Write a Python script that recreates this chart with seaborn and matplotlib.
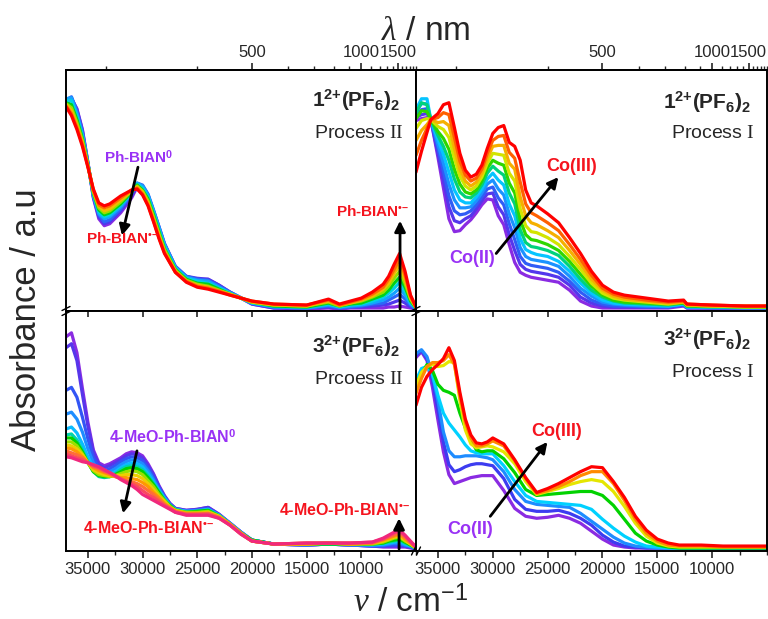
import numpy as np
import pandas as pd
import matplotlib
matplotlib.use("Agg")
import matplotlib.pyplot as plt
import seaborn as sns
from matplotlib.colors import LinearSegmentedColormap
from matplotlib.lines import Line2D
from matplotlib.ticker import FixedLocator, MultipleLocator, NullFormatter

# ---------------- data (arbitrary absorbance units) ----------------
# panel 1: 1(PF6)2, process II  (purple -> red)
nu_tl = [37000, 36500, 36000, 35500, 35000, 34500, 34000, 33500, 33000, 32000, 31000, 30500,
         30000, 29500, 29000, 28500, 28000, 27000, 26000, 25000, 24000, 23000, 22000, 20000,
         18000, 15000, 13000, 12000, 11000, 10000, 9000, 8000, 7500, 7000, 6500, 6000, 5500, 5000]
abs_tl = [
    [206, 212, 202, 181, 148, 112, 91, 84, 86, 97, 112, 123, 122, 113, 97, 81, 65, 42, 32, 30, 30, 24, 17, 5, 1, 0, 1, 0, 1, 1, 1, 1, 2, 2, 3, 2, 1, 0],
    [208, 213, 201, 180, 148, 113, 93, 86, 88, 99, 114, 125, 124, 115, 99, 83, 66, 43, 33, 31, 30, 24, 17, 5, 1, 1, 2, 1, 2, 2, 3, 4, 5, 7, 9, 6, 2, 0],
    [211, 214, 199, 178, 147, 114, 95, 88, 90, 101, 116, 127, 125, 116, 100, 83, 66, 43, 33, 30, 29, 23, 17, 6, 2, 1, 3, 1, 2, 3, 5, 6, 9, 12, 15, 10, 4, 0],
    [212, 213, 197, 176, 147, 115, 96, 91, 93, 103, 117, 127, 124, 115, 99, 82, 65, 42, 32, 29, 28, 22, 16, 6, 2, 1, 4, 2, 3, 4, 6, 9, 12, 16, 21, 14, 5, 1],
    [210, 210, 194, 174, 146, 116, 98, 93, 95, 105, 118, 126, 122, 113, 97, 80, 63, 41, 31, 28, 26, 21, 16, 6, 3, 2, 5, 2, 4, 5, 8, 12, 16, 21, 27, 18, 7, 1],
    [208, 206, 191, 172, 146, 117, 100, 95, 97, 106, 118, 125, 120, 111, 95, 78, 61, 40, 30, 26, 25, 20, 15, 7, 3, 2, 6, 3, 5, 6, 10, 14, 19, 26, 32, 22, 8, 1],
    [207, 203, 188, 170, 145, 118, 102, 97, 99, 108, 119, 124, 119, 109, 93, 76, 60, 39, 29, 25, 23, 19, 15, 7, 4, 3, 7, 3, 6, 8, 12, 17, 23, 31, 38, 26, 10, 1],
    [206, 200, 185, 168, 145, 119, 104, 99, 101, 110, 119, 123, 118, 107, 91, 74, 58, 38, 28, 24, 22, 18, 15, 7, 4, 3, 8, 4, 6, 9, 13, 20, 26, 36, 44, 30, 11, 2],
    [205, 197, 183, 166, 144, 120, 105, 102, 104, 112, 120, 122, 116, 105, 89, 72, 57, 37, 28, 23, 21, 18, 14, 8, 5, 4, 9, 4, 7, 10, 15, 22, 30, 40, 50, 34, 13, 2],
    [204, 195, 181, 164, 143, 121, 107, 104, 106, 114, 120, 121, 115, 104, 88, 71, 56, 37, 27, 22, 20, 17, 14, 8, 5, 4, 10, 5, 8, 11, 17, 25, 33, 45, 56, 38, 14, 2],
]

# panel 2: 1(PF6)2, process I  (Co(II) -> Co(III))
nu_tr = [37000, 36500, 36000, 35650, 35000, 34500, 34000, 33500, 33000, 32500, 32000, 31500,
         31000, 30500, 30000, 29500, 29000, 28500, 28000, 27500, 27000, 26500, 26000, 25000,
         24000, 23000, 22000, 21000, 20000, 19000, 18000, 16000, 14000, 12600, 12300, 10000, 7000, 5000]
abs_tr = [
    [190, 192, 193, 191, 153, 122, 91, 78, 79, 85, 90, 97, 105, 111, 110, 94, 85, 65, 47, 37, 34, 32, 31, 29, 27, 19, 8, 3, 1, 1, 1, 1, 1, 3, 1, 1, 1, 1],
    [193, 196, 197, 191, 157, 130, 103, 89, 87, 91, 94, 101, 109, 116, 117, 103, 95, 75, 59, 45, 40, 38, 37, 35, 32, 24, 12, 6, 3, 2, 2, 2, 2, 4, 1, 1, 1, 1],
    [196, 201, 202, 191, 162, 139, 114, 99, 95, 96, 99, 105, 113, 121, 123, 112, 105, 86, 70, 53, 46, 44, 43, 41, 37, 28, 17, 9, 5, 3, 3, 2, 2, 4, 2, 1, 1, 1],
    [199, 207, 207, 191, 166, 147, 126, 110, 102, 102, 103, 109, 117, 126, 130, 121, 115, 96, 82, 62, 53, 50, 49, 47, 43, 33, 21, 13, 7, 5, 4, 3, 3, 5, 2, 2, 1, 1],
    [201, 212, 212, 191, 171, 156, 138, 120, 110, 107, 107, 113, 121, 131, 137, 130, 125, 106, 94, 71, 60, 57, 55, 53, 48, 38, 26, 16, 9, 6, 5, 4, 3, 5, 2, 2, 2, 2],
    [198, 208, 206, 191, 175, 164, 150, 131, 118, 113, 112, 117, 125, 137, 144, 139, 135, 117, 106, 80, 67, 63, 62, 59, 54, 43, 30, 19, 12, 8, 6, 5, 4, 6, 3, 2, 2, 2],
    [192, 200, 199, 191, 179, 172, 161, 141, 126, 118, 116, 120, 129, 142, 150, 147, 145, 127, 117, 90, 75, 70, 69, 65, 59, 48, 35, 23, 14, 9, 7, 6, 5, 6, 3, 3, 2, 2],
    [182, 190, 192, 191, 184, 181, 173, 152, 134, 124, 120, 124, 133, 147, 157, 156, 155, 137, 129, 101, 84, 78, 77, 72, 65, 53, 40, 26, 16, 11, 9, 7, 5, 7, 4, 3, 2, 2],
    [170, 180, 186, 191, 188, 189, 185, 162, 141, 129, 124, 128, 137, 152, 164, 165, 165, 147, 141, 113, 94, 87, 85, 79, 72, 59, 45, 30, 19, 13, 10, 8, 6, 7, 4, 3, 3, 3],
    [155, 170, 182, 191, 193, 198, 196, 173, 149, 135, 129, 132, 141, 157, 170, 174, 175, 158, 152, 128, 106, 97, 94, 87, 79, 65, 50, 34, 21, 15, 12, 9, 7, 8, 5, 4, 3, 3],
    [138, 159, 178, 191, 197, 206, 208, 183, 157, 140, 133, 136, 145, 162, 177, 183, 185, 168, 164, 150, 120, 107, 104, 96, 87, 72, 56, 38, 24, 17, 14, 11, 8, 9, 5, 4, 3, 3],
]

# panel 3: 3(PF6)2, process II
nu_bl = [37000, 36500, 36000, 35500, 35000, 34500, 34000, 33500, 33000, 32500, 32000, 31500,
         31000, 30500, 30000, 29500, 29000, 28500, 28000, 27500, 27000, 26000, 25000, 24000,
         23000, 22000, 21000, 20000, 18000, 15000, 13000, 11000, 9000, 8000, 7500, 7000, 6500,
         6000, 5500, 5000]
abs_bl = [
    [214, 218, 198, 162, 128, 100, 87, 84, 86, 89, 92, 96, 98, 97, 94, 86, 76, 64, 54, 46, 41, 39, 40, 42, 35, 26, 17, 9, 5, 4, 5, 4, 3, 2, 2, 2, 2, 2, 1, 0],
    [203, 207, 190, 156, 124, 98, 85, 82, 84, 87, 90, 94, 96, 95, 92, 84, 75, 63, 53, 46, 41, 39, 40, 42, 35, 26, 17, 9, 5, 4, 5, 4, 3, 3, 3, 3, 3, 3, 2, 0],
    [160, 163, 153, 133, 111, 92, 82, 79, 81, 84, 88, 91, 93, 92, 89, 82, 72, 62, 53, 45, 40, 38, 39, 41, 34, 26, 17, 9, 5, 4, 5, 4, 3, 3, 4, 4, 5, 3, 2, 0],
    [136, 138, 131, 118, 101, 87, 79, 76, 78, 81, 85, 88, 90, 89, 86, 79, 70, 60, 52, 45, 40, 38, 39, 40, 34, 26, 17, 9, 5, 4, 5, 4, 4, 4, 5, 6, 6, 4, 3, 1],
    [121, 123, 117, 106, 93, 82, 76, 74, 75, 78, 82, 85, 87, 86, 83, 76, 68, 59, 51, 44, 40, 38, 38, 40, 34, 25, 16, 9, 5, 5, 5, 5, 4, 5, 6, 7, 8, 5, 3, 1],
    [115, 116, 110, 100, 88, 78, 73, 72, 73, 76, 80, 83, 84, 83, 80, 74, 66, 58, 50, 44, 40, 37, 38, 39, 34, 25, 16, 9, 5, 5, 5, 5, 5, 6, 7, 8, 9, 6, 4, 1],
    [112, 112, 107, 98, 87, 78, 74, 73, 73, 75, 78, 81, 82, 81, 78, 72, 65, 57, 49, 44, 39, 37, 38, 39, 33, 25, 16, 9, 5, 5, 5, 5, 5, 6, 8, 9, 10, 7, 4, 1],
    [108, 108, 104, 96, 87, 79, 75, 74, 73, 74, 76, 78, 79, 78, 75, 69, 63, 55, 49, 43, 39, 37, 37, 38, 33, 25, 16, 8, 5, 5, 6, 5, 5, 7, 9, 11, 12, 8, 5, 1],
    [105, 104, 101, 95, 87, 80, 77, 75, 74, 74, 74, 75, 75, 74, 71, 66, 60, 53, 48, 42, 39, 36, 36, 37, 33, 25, 16, 8, 5, 5, 6, 5, 6, 8, 10, 12, 13, 9, 5, 1],
    [102, 101, 98, 93, 87, 82, 79, 77, 75, 73, 72, 72, 71, 70, 67, 63, 57, 52, 46, 42, 38, 36, 36, 36, 32, 25, 16, 8, 5, 5, 6, 5, 6, 9, 11, 13, 15, 10, 6, 1],
    [99, 97, 95, 92, 87, 83, 81, 78, 76, 73, 71, 69, 68, 66, 63, 59, 55, 50, 45, 41, 38, 35, 35, 36, 32, 24, 15, 8, 5, 6, 6, 6, 6, 10, 12, 14, 16, 12, 7, 2],
    [96, 94, 92, 90, 87, 84, 82, 79, 77, 74, 71, 68, 66, 63, 59, 55, 52, 48, 44, 41, 37, 35, 35, 35, 31, 24, 15, 8, 5, 6, 6, 6, 7, 10, 13, 16, 18, 13, 7, 2],
    [93, 92, 90, 88, 87, 85, 83, 80, 77, 74, 70, 67, 64, 60, 55, 52, 49, 46, 43, 40, 37, 34, 34, 34, 31, 24, 15, 8, 5, 6, 6, 6, 7, 11, 14, 17, 19, 14, 8, 2],
]

# panel 4: 3(PF6)2, process I
nu_br = [37000, 36500, 36000, 35500, 35000, 34500, 34000, 33500, 33000, 32500, 32000, 31500,
         31000, 30500, 30000, 29000, 28000, 27000, 26000, 25000, 24000, 23000, 22000, 21000,
         20000, 19000, 18000, 17000, 16000, 15000, 14000, 13000, 11000, 9000, 7000, 5000]
abs_br = [
    [193, 199, 190, 163, 130, 98, 75, 66, 68, 70, 72, 73, 74, 74, 74, 59, 41, 33, 31, 32, 34, 31, 26, 18, 10, 4, 2, 1, 1, 1, 1, 1, 1, 1, 1, 1],
    [195, 200, 192, 170, 140, 108, 85, 78, 80, 83, 85, 86, 86, 85, 84, 71, 50, 40, 38, 38, 39, 36, 31, 24, 14, 7, 3, 2, 1, 1, 1, 1, 1, 1, 1, 1],
    [197, 201, 194, 176, 150, 118, 99, 93, 93, 94, 94, 94, 93, 92, 90, 78, 60, 48, 45, 44, 43, 42, 36, 28, 20, 12, 6, 3, 2, 1, 1, 1, 1, 1, 1, 1],
    [170, 182, 184, 176, 155, 137, 127, 120, 113, 105, 99, 97, 96, 96, 96, 84, 68, 54, 48, 47, 46, 45, 44, 40, 30, 21, 13, 7, 3, 2, 1, 1, 1, 1, 1, 1],
    [167, 176, 186, 180, 166, 160, 158, 155, 137, 122, 110, 100, 98, 99, 99, 91, 77, 60, 54, 55, 56, 57, 58, 58, 54, 44, 30, 16, 8, 4, 2, 1, 1, 1, 1, 1],
    [165, 178, 184, 186, 184, 185, 189, 188, 150, 120, 106, 102, 103, 104, 103, 98, 86, 68, 55, 58, 61, 65, 68, 70, 68, 58, 43, 26, 13, 6, 3, 2, 2, 2, 2, 2],
    [157, 172, 184, 188, 188, 190, 196, 186, 155, 128, 112, 104, 104, 106, 109, 104, 89, 71, 56, 59, 63, 68, 74, 78, 78, 66, 49, 30, 16, 8, 4, 3, 3, 2, 2, 2],
    [145, 163, 174, 181, 186, 192, 203, 190, 158, 131, 115, 107, 106, 108, 112, 106, 90, 72, 57, 61, 66, 72, 78, 83, 82, 68, 52, 33, 19, 10, 6, 4, 4, 3, 3, 3],
]

lam_major = [500, 1000, 1500]
lam_minor = [300, 400, 600, 700, 800, 900, 1100, 1200, 1300, 1400, 1600, 1700, 1800, 1900, 2000]
nu_major = [35000, 30000, 25000, 20000, 15000, 10000]

# ---------------- style ----------------
sns.set_theme(style="white")
plt.rcParams["font.family"] = ["Liberation Sans", "DejaVu Sans"]
plt.rcParams["mathtext.fontset"] = "custom"
plt.rcParams["mathtext.rm"] = "Liberation Sans"
plt.rcParams["mathtext.sf"] = "Liberation Sans"
plt.rcParams["mathtext.bf"] = "Liberation Sans:bold"
plt.rcParams["mathtext.it"] = "Liberation Serif:italic"
plt.rcParams["mathtext.tt"] = "Liberation Serif"

spectrum = LinearSegmentedColormap.from_list(
    "spec", ["#8a2be2", "#3c3cf0", "#1e8cff", "#00d2ff", "#00d200", "#e6e600", "#ff8c00", "#ff0000"])
spectrum_pink = LinearSegmentedColormap.from_list(
    "spec2", ["#8a2be2", "#3c3cf0", "#1e8cff", "#00d2ff", "#00d200", "#e6e600", "#ff9a00",
              "#ff5a50", "#f0287c"])
PURPLE = "#9932f5"
RED = "#f5141e"

W, H = 768, 619
fig = plt.figure(figsize=(W / 100, H / 100), dpi=100)


def box(x0, y0, x1, y1):
    return [x0 / W, 1 - y1 / H, (x1 - x0) / W, (y1 - y0) / H]


ax_tl = fig.add_axes(box(66, 70, 416, 311))
ax_tr = fig.add_axes(box(416, 70, 767, 311))
ax_bl = fig.add_axes(box(66, 311, 416, 551))
ax_br = fig.add_axes(box(416, 311, 767, 551))


def draw_panel(ax, nu, rows, cmap, top):
    n = len(rows)
    df = pd.DataFrame({
        "nu": np.tile(nu, n),
        "absorb": np.concatenate([np.asarray(r, float) for r in rows]),
        "step": np.repeat(np.arange(n), len(nu)),
    })
    pal = [cmap(i / (n - 1)) for i in range(n)]
    sns.lineplot(data=df, x="nu", y="absorb", hue="step", palette=pal, estimator=None,
                 linewidth=2.3, legend=False, ax=ax)
    ax.set_xlim(37000, 5000)
    ax.set_ylim(-2, 241 if top else 240)
    ax.set_xlabel("")
    ax.set_ylabel("")
    ax.set_yticks([])
    for s in ax.spines.values():
        s.set_linewidth(1.4)
        s.set_color("black")
    ax.xaxis.set_major_locator(FixedLocator(nu_major))
    ax.xaxis.set_minor_locator(MultipleLocator(2500))
    if top:
        ax.tick_params(axis="x", which="both", bottom=False, labelbottom=False)
        sec = ax.secondary_xaxis("top", functions=(lambda x: 1e7 / np.maximum(x, 1),
                                                   lambda x: 1e7 / np.maximum(x, 1)))
        sec.xaxis.set_major_locator(FixedLocator(lam_major))
        sec.xaxis.set_minor_locator(FixedLocator(lam_minor))
        sec.xaxis.set_minor_formatter(NullFormatter())
        sec.tick_params(which="major", direction="out", length=5, width=1.2, labelsize=12, pad=2)
        sec.tick_params(which="minor", direction="out", length=3, width=1.0)
        sec.spines["top"].set_linewidth(1.4)
    else:
        ax.tick_params(axis="x", which="major", bottom=True, top=True, labeltop=False,
                       direction="out", length=5, width=1.2, labelsize=12, pad=3)
        ax.tick_params(axis="x", which="minor", bottom=True, top=False, direction="out",
                       length=3, width=1.0)
    return ax


draw_panel(ax_tl, nu_tl, abs_tl, spectrum, True)
draw_panel(ax_tr, nu_tr, abs_tr, spectrum, True)
draw_panel(ax_bl, nu_bl, abs_bl, spectrum_pink, False)
draw_panel(ax_br, nu_br, abs_br, spectrum, False)
for ax in (ax_bl, ax_br):
    for t in ax.xaxis.get_major_ticks():
        t.tick2line.set_marker(3)  # inward tick on the top spine
        t.tick2line.set_markersize(4)

arrow = dict(arrowstyle="-|>", color="black", lw=2.0, mutation_scale=16, shrinkA=0, shrinkB=0)
bold = dict(fontweight="bold", ha="center", va="center")
rad = "$^{\\mathbf{\u2022\u2013}}$"

# panel labels
for ax, name, proc, yb, yp in [
        (ax_tl, r"$\mathbf{1^{2{+}}(PF_6)_2}$", r"Process $\mathtt{II}$", 0.875, 0.735),
        (ax_tr, r"$\mathbf{1^{2{+}}(PF_6)_2}$", r"Process $\mathtt{I}$", 0.865, 0.735),
        (ax_bl, r"$\mathbf{3^{2{+}}(PF_6)_2}$", r"Prcoess $\mathtt{II}$", 0.855, 0.715),
        (ax_br, r"$\mathbf{3^{2{+}}(PF_6)_2}$", r"Process $\mathtt{I}$", 0.885, 0.745)]:
    ax.text(0.955, yb, name, transform=ax.transAxes, ha="right", va="center", fontsize=15)
    ax.text(0.965, yp, proc, transform=ax.transAxes, ha="right", va="center", fontsize=14)

# top left annotations
ax_tl.annotate("", xy=(31880, 74), xytext=(30420, 143), arrowprops=arrow)
ax_tl.annotate("", xy=(6460, 89), xytext=(6460, 0), arrowprops=arrow)
ax_tl.text(30330, 153, r"Ph-BIAN$^{\mathbf{0}}$", color=PURPLE, fontsize=11, **bold)
ax_tl.text(31790, 71, "Ph-BIAN" + rad, color=RED, fontsize=11, **bold)
ax_tl.text(8930, 98, "Ph-BIAN" + rad, color=RED, fontsize=11, **bold)

# top right annotations
ax_tr.annotate("", xy=(24020, 133), xytext=(29690, 56), arrowprops=arrow)
ax_tr.text(22830, 144, "Co(III)", color=RED, fontsize=13, **bold)
ax_tr.text(31880, 51, "Co(II)", color=PURPLE, fontsize=13, **bold)

# bottom left annotations
ax_bl.annotate("", xy=(31790, 36), xytext=(30510, 99), arrowprops=arrow)
ax_bl.annotate("", xy=(6550, 31), xytext=(6550, 0), arrowprops=arrow)
ax_bl.text(27220, 113, r"4-MeO-Ph-BIAN$^{\mathbf{0}}$", color=PURPLE, fontsize=11.5, **bold)
ax_bl.text(29410, 21, "4-MeO-Ph-BIAN" + rad, color=RED, fontsize=11.5, **bold)
ax_bl.text(11490, 39, "4-MeO-Ph-BIAN" + rad, color=RED, fontsize=11.5, **bold)

# bottom right annotations
ax_br.annotate("", xy=(25020, 108), xytext=(30230, 33), arrowprops=arrow)
ax_br.text(24200, 119, "Co(III)", color=RED, fontsize=13, **bold)
ax_br.text(32060, 20, "Co(II)", color=PURPLE, fontsize=13, **bold)

# axis titles
fig.text(426 / W, 1 - 31 / H, r"$\lambda$ / nm", ha="center", va="center", fontsize=24)
fig.text(410 / W, 1 - 603 / H, r"$\nu$ / cm$^{-1}$", ha="center", va="center", fontsize=24)
fig.text(27 / W, 1 - 320 / H, "Absorbance / a.u", ha="center", va="center",
         rotation=90, fontsize=25)


# axis-break marks
def break_mark(px, py, horizontal):
    for k in (-2.5, 2.5):
        if horizontal:
            xs, ys = [px + k - 2, px + k + 2], [py + 4, py - 4]
        else:
            xs, ys = [px - 4, px + 4], [py + k + 2, py + k - 2]
        fig.add_artist(Line2D([x / W for x in xs], [1 - y / H for y in ys],
                              transform=fig.transFigure, color="black", lw=1.0))


break_mark(66, 311, False)
break_mark(416, 311, False)
break_mark(416, 551, True)

fig.savefig("out.png", dpi=100)
